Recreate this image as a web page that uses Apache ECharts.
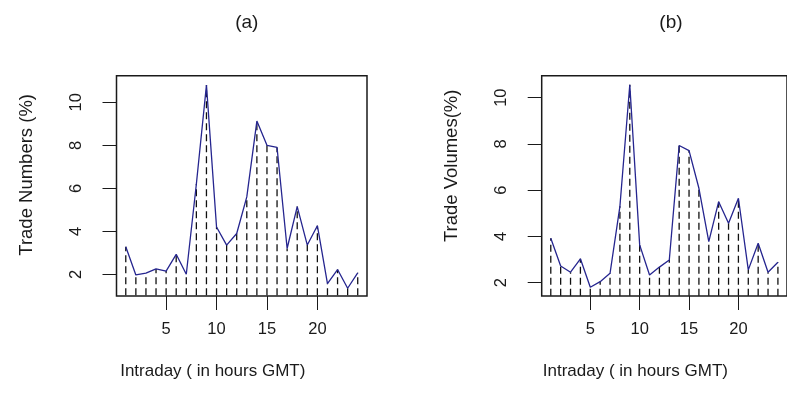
<!DOCTYPE html>
<html>
<head>
<meta charset="utf-8">
<script src="https://cdn.jsdelivr.net/npm/echarts@6/dist/echarts.min.js"></script>
<style>
html,body{margin:0;padding:0;background:#fff;}
#chart{width:787px;height:417px;}
</style>
</head>
<body>
<div id="chart"></div>
<script>
// Data
var hours = [1,2,3,4,5,6,7,8,9,10,11,12,13,14,15,16,17,18,19,20,21,22,23,24];
var tradeNumbers = [3.28,1.97,2.05,2.25,2.15,2.93,2.0,6.2,10.8,4.2,3.36,3.9,5.6,9.13,8.0,7.9,3.2,5.15,3.36,4.26,1.57,2.22,1.35,2.07];
var tradeVolumes = [3.92,2.72,2.45,3.03,1.8,2.04,2.4,5.3,10.56,3.63,2.33,2.67,2.98,7.93,7.71,6.08,3.77,5.5,4.57,5.65,2.55,3.7,2.45,2.88];
var xTicks = [5,10,15,20];
var yTicks = [2,4,6,8,10];
var titles = ['(a)','(b)'];
var yNames = ['Trade Numbers (%)','Trade Volumes(%)'];
var xName = 'Intraday ( in hours GMT)';

var FONT = 'Liberation Sans, Arial, sans-serif';
var LINE_COLOR = '#25258f';
var TXT = '#1a1a1a';

function pairs(xs, ys){ return xs.map(function(x,i){ return [x, ys[i]]; }); }

var grids = [
  {left:116.5, top:75.7, width:250.5, height:220.3},
  {left:541.7, top:75.7, width:248.5, height:220.3}
];
var yRanges = [[0.99,11.24],[1.42,10.95]];
var yNamePad = [[0,0,0,22],[0,0,0,40]];

function xAxis(idx){
  return {
    type:'value', gridIndex:idx, min:0.08, max:24.92,
    name:xName, nameLocation:'middle', nameGap:67,
    nameTextStyle:{fontFamily:FONT, fontSize:17, color:TXT, padding:[0,58,0,0]},
    axisLine:{show:false},
    splitLine:{show:false},
    axisTick:{show:true, inside:false, length:14, customValues:xTicks, lineStyle:{color:TXT, width:1}},
    axisLabel:{show:true, margin:25, customValues:xTicks, fontFamily:FONT, fontSize:16.5, color:TXT}
  };
}
function yAxis(idx){
  return {
    type:'value', gridIndex:idx, min:yRanges[idx][0], max:yRanges[idx][1],
    name:yNames[idx], nameLocation:'middle', nameGap:80, nameRotate:90,
    nameTextStyle:{fontFamily:FONT, fontSize:18.5, color:TXT, padding:yNamePad[idx]},
    axisLine:{show:false},
    splitLine:{show:false},
    axisTick:{show:true, inside:false, length:14, customValues:yTicks, lineStyle:{color:TXT, width:1}},
    axisLabel:{show:true, rotate:90, margin:32, customValues:yTicks, fontFamily:FONT, fontSize:16.5, color:TXT}
  };
}
function dashSeries(idx, vals){
  return {
    type:'custom', xAxisIndex:idx, yAxisIndex:idx, clip:true, z:2,
    data: pairs(hours, vals),
    renderItem:function(params, api){
      var x = api.value(0), v = api.value(1);
      var p0 = api.coord([x, 0]);
      var p1 = api.coord([x, v]);
      return {
        type:'line',
        shape:{x1:p0[0], y1:p0[1], x2:p1[0], y2:p1[1]},
        style:{stroke:'#111', lineWidth:1.3, lineDash:[7,4], fill:null}
      };
    }
  };
}
function lineSeries(idx, vals){
  return {
    type:'line', xAxisIndex:idx, yAxisIndex:idx, z:5,
    data: pairs(hours, vals), symbol:'none',
    lineStyle:{color:LINE_COLOR, width:1.3}
  };
}

var chart = echarts.init(document.getElementById('chart'), null, {renderer:'canvas'});
chart.setOption({
  animation:false,
  backgroundColor:'#fff',
  title: titles.map(function(t,i){
    return {text:t, left:grids[i].left + grids[i].width/2, top:8, textAlign:'center',
      textStyle:{fontFamily:FONT, fontSize:19, fontWeight:'normal', color:TXT}};
  }),
  grid: grids.map(function(g){
    return {left:g.left, top:g.top, width:g.width, height:g.height, show:true,
      borderColor:TXT, borderWidth:1.5, backgroundColor:'transparent', containLabel:false};
  }),
  xAxis:[xAxis(0), xAxis(1)],
  yAxis:[yAxis(0), yAxis(1)],
  series:[dashSeries(0, tradeNumbers), lineSeries(0, tradeNumbers), dashSeries(1, tradeVolumes), lineSeries(1, tradeVolumes)]
});
</script>
</body>
</html>
